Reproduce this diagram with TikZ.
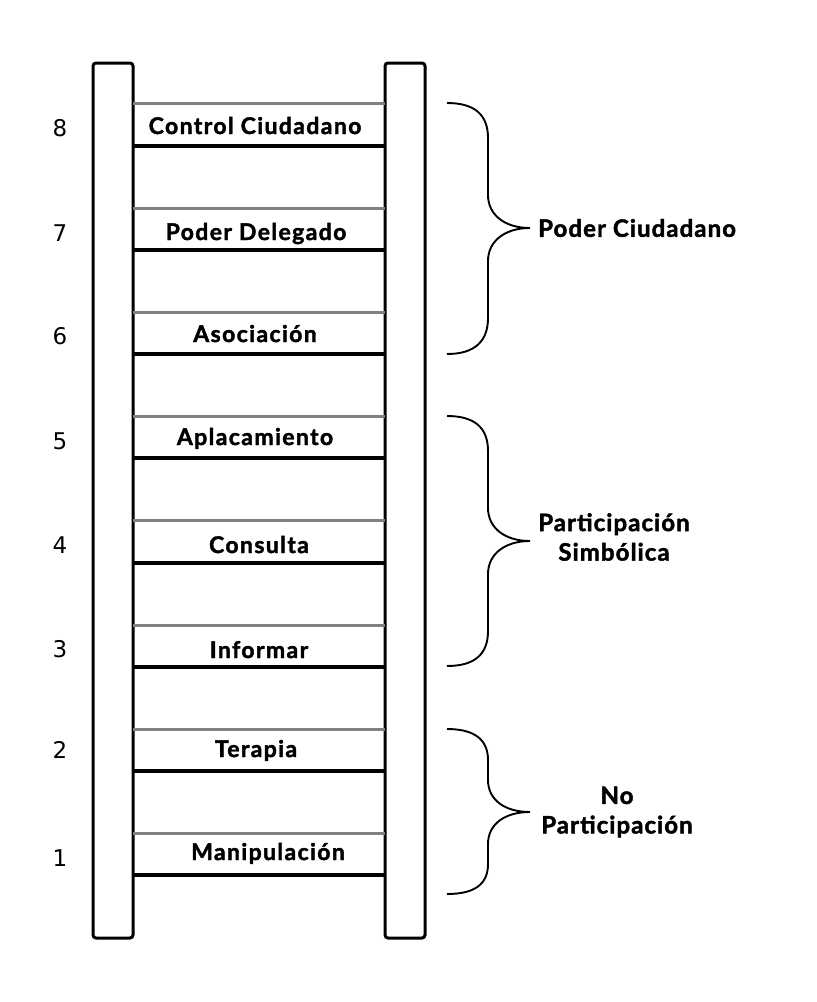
\documentclass[tikz,border=0pt]{standalone}
\usepackage{fontspec}
\newfontfamily\rungfont{Lato}[LetterSpace=6, BoldFeatures={FakeBold=1.8}]
\newfontfamily\groupfont{Lato}[LetterSpace=4.5, BoldFeatures={FakeBold=1.8}]
\newfontfamily\numfont{DejaVu Sans}
\usepackage{tikz}
\usetikzlibrary{positioning}

\begin{document}
\begin{tikzpicture}[x=1pt, y=-1pt,
    rail/.style={draw=black, line width=3pt, rounded corners=3pt},
    rungtop/.style={draw=black!50, line width=3pt},
    rungbot/.style={draw=black, line width=3.2pt},
    rung/.style={font=\rungfont\bfseries\fontsize{23}{27}\selectfont, anchor=base, inner sep=0pt},
    level/.style={font=\numfont\fontsize{23}{27}\selectfont, anchor=base, inner sep=0pt},
    group/.style={font=\groupfont\bfseries\fontsize{24}{29.5}\selectfont, align=center, inner sep=0pt},
    brace/.style={draw=black, line width=1.9pt}]
  \useasboundingbox (0,0) rectangle (817,1002);

  % rails
  \draw[rail] (93,938) -- (93,63) -- (133,63) -- (133,938) -- cycle;
  \draw[rail] (385,938) -- (385,63) -- (425,63) -- (425,938) -- cycle;

  % rungs
  \draw[rungtop] (133,103) -- (385,103);   \draw[rungbot] (133,146) -- (385,146);
  \draw[rungtop] (133,208) -- (385,208);   \draw[rungbot] (133,250) -- (385,250);
  \draw[rungtop] (133,312) -- (385,312);   \draw[rungbot] (133,354) -- (385,354);
  \draw[rungtop] (133,416) -- (385,416);   \draw[rungbot] (133,458) -- (385,458);
  \draw[rungtop] (133,520) -- (385,520);   \draw[rungbot] (133,563) -- (385,563);
  \draw[rungtop] (133,625) -- (385,625);   \draw[rungbot] (133,667) -- (385,667);
  \draw[rungtop] (133,729) -- (385,729);   \draw[rungbot] (133,771) -- (385,771);
  \draw[rungtop] (133,833) -- (385,833);   \draw[rungbot] (133,875) -- (385,875);

  \node[rung] (r8) at (255,134) {Control Ciudadano};
  \node[rung] (r7) at (256,240) {Poder Delegado};
  \node[rung] (r6) at (255,342) {Asociación};
  \node[rung] (r5) at (255,445) {Aplacamiento};
  \node[rung] (r4) at (259,553) {Consulta};
  \node[rung] (r3) at (259,658) {Informar};
  \node[rung] (r2) at (256,757) {Terapia};
  \node[rung] (r1) at (268,860) {Manipulación};

  % level numbers
  \node[level] (n8) at (60,136) {8};
  \node[level] (n7) at (60,241) {7};
  \node[level] (n6) at (60,344) {6};
  \node[level] (n5) at (60,449) {5};
  \node[level] (n4) at (60,553) {4};
  \node[level] (n3) at (60,657) {3};
  \node[level] (n2) at (60,758) {2};
  \node[level] (n1) at (60,866) {1};

  % braces
  \draw[brace] (447,103) .. controls (475,103) and (488,115) .. (488,138)
    -- (488,195) .. controls (488,215) and (505,228) .. (530,228)
    .. controls (505,228) and (488,241) .. (488,261)
    -- (488,318) .. controls (488,341) and (475,354) .. (447,354);
  \draw[brace] (447,416) .. controls (475,416) and (488,428) .. (488,451)
    -- (488,508) .. controls (488,528) and (505,541) .. (530,541)
    .. controls (505,541) and (488,554) .. (488,574)
    -- (488,631) .. controls (488,654) and (475,666) .. (447,666);
  \draw[brace] (447,729) .. controls (475,729) and (488,740) .. (488,760)
    -- (488,780) .. controls (488,800) and (505,812) .. (530,812)
    .. controls (505,812) and (488,824) .. (488,844)
    -- (488,864) .. controls (488,884) and (475,894) .. (447,894);

  \node[group, anchor=west] (g3) at (538,228) {Poder Ciudadano};
  \node[group] (g2) at (614,537) {Participación\\Simbólica};
  \node[group] (g1) at (617,812) {No\\Participación};
\end{tikzpicture}
\end{document}
